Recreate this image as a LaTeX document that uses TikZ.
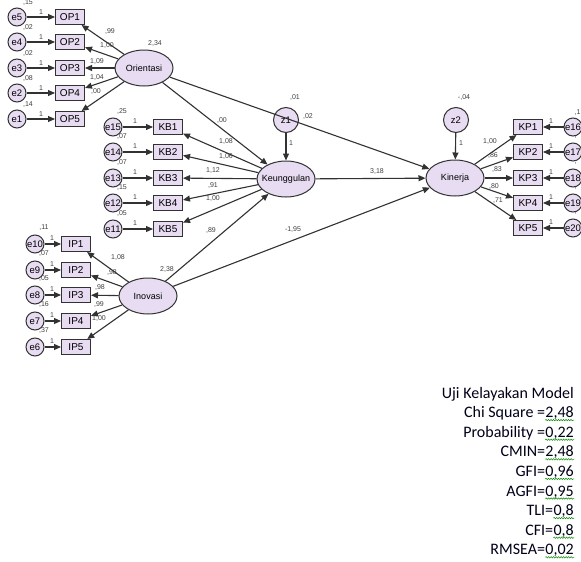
\documentclass[tikz,border=0pt]{standalone}
\usepackage{fontspec}
\setmainfont{Liberation Sans}
\newfontfamily\calibri{Carlito}
\usetikzlibrary{shapes.geometric,arrows.meta,decorations.pathmorphing}
\definecolor{lav}{RGB}{232,220,242}
\definecolor{edge}{RGB}{50,50,50}
\newcommand{\ctext}[1]{\hbox to 0pt{\hss#1\hss}}

\begin{document}
\begin{tikzpicture}[x=1pt,y=-1pt,
  lat/.style={ellipse,draw=edge,line width=1pt,fill=lav,minimum width=58pt,minimum height=36pt,inner sep=0pt,font=\fontsize{9}{10}\selectfont},
  obs/.style={draw=edge,line width=1pt,fill=lav,minimum width=29pt,minimum height=15pt,inner sep=0pt,font=\fontsize{10}{11}\selectfont},
  err/.style={circle,draw=edge,line width=1pt,fill=lav,minimum size=18pt,inner sep=0pt,font=\fontsize{9.5}{10}\selectfont},
  dist/.style={circle,draw=edge,line width=1pt,fill=lav,minimum size=25pt,inner sep=0pt,font=\fontsize{9.5}{10}\selectfont},
  coef/.style={inner sep=0pt,text=black!75,font=\fontsize{7}{8}\selectfont},
  link/.style={draw=edge,line width=1.1pt,-{Triangle[length=7pt,width=6pt]}},
  stat/.style={inner sep=0pt,text=black!90!blue,font=\calibri\fontsize{16}{18}\selectfont},
  wavy/.style={green!55!black,line width=0.5pt,decorate,decoration={snake,amplitude=0.7pt,segment length=2.5pt}}]
\fill[white] (0,0) rectangle (581,562);
\useasboundingbox (0,0) rectangle (581,562);

% latent variables
\node[lat] (ori) at (144,68) {\ctext{Orientasi}};
\node[lat] (keu) at (286,179) {\ctext{Keunggulan}};
\node[lat] (kin) at (455,178) {\ctext{Kinerja}};
\node[lat] (ino) at (148,296) {\ctext{Inovasi}};
\node[dist] (z1) at (286,120) {z1};
\node[dist] (z2) at (456,120) {z2};

% Orientasi indicators
\foreach \i/\yy/\en/\var/\load/\lx/\ly in {1/17/5/{,15}/{,99}/110/32, 2/42/4/{,02}/{1,00}/107/46, 3/68/3/{,02}/{1,09}/97/62, 4/93/2/{,08}/{1,04}/97/78, 5/119/1/{,14}/{,00}/96/92}{
  \node[obs] (OP\i) at (70,\yy) {OP\i};
  \node[err] (e\en) at (17,\yy) {\ctext{e\en}};
  \node[coef] (ve\en) at (28,\yy-14) {\var};
  \node[coef] (one\en) at (41,\yy-5) {1};
  \node[coef] (loOP\i) at (\lx,\ly) {\load};
  \draw[link] (e\en) -- (OP\i);
  \draw[link] (ori) -- (OP\i);
}

% Keunggulan indicators
\foreach \i/\yy/\en/\var/\load/\lx/\ly in {1/127/15/{,25}/{1,08}/226/142, 2/152/14/{,07}/{1,06}/226/157, 3/178/13/{,07}/{1,12}/213/171, 4/203/12/{,15}/{,91}/213/186, 5/229/11/{,05}/{1,00}/213/199}{
  \node[obs] (KB\i) at (168,\yy) {KB\i};
  \node[err] (e\en) at (113,\yy) {\ctext{e\en}};
  \node[coef] (ve\en) at (122,\yy-15) {\var};
  \node[coef] (one\en) at (135,\yy-6) {1};
  \node[coef] (loKB\i) at (\lx,\ly) {\load};
  \draw[link] (e\en) -- (KB\i);
  \draw[link] (keu) -- (KB\i);
}

% Inovasi indicators
\foreach \i/\yy/\en/\var/\load/\lx/\ly in {1/244/10/{,11}/{1,08}/118/258, 2/270/9/{,07}/{,98}/112/273, 3/295/8/{,05}/{,98}/100/288, 4/321/7/{,16}/{,99}/99/305, 5/347/6/{,37}/{1,00}/99/319}{
  \node[obs] (IP\i) at (76,\yy) {IP\i};
  \node[err] (e\en) at (35,\yy) {\ctext{e\en}};
  \node[coef] (ve\en) at (44,\yy-16) {\var};
  \node[coef] (one\en) at (52,\yy-6) {1};
  \node[coef] (loIP\i) at (\lx,\ly) {\load};
  \draw[link] (e\en) -- (IP\i);
  \draw[link] (ino) -- (IP\i);
}

% Kinerja indicators
\foreach \i/\yy/\en/\var/\load/\lx/\ly in {1/127/16/{,1}/{1,00}/490/142, 2/152/17/{,}/{,86}/493/156, 3/178/18/{,}/{,83}/497/170, 4/203/19/{,}/{,80}/494/187, 5/228/20/{,}/{,71}/498/201}{
  \node[obs] (KP\i) at (528,\yy) {KP\i};
  \node[err] (e\en) at (573,\yy) {\ctext{e\en}};
  \node[coef,anchor=west] (ve\en) at (574.5,\yy-14) {\var};
  \node[coef] (one\en) at (551,\yy-6) {1};
  \node[coef] (loKP\i) at (\lx,\ly) {\load};
  \draw[link] (e\en) -- (KP\i);
  \draw[link] (kin) -- (KP\i);
}

% structural paths
\draw[link] (ori) -- (keu);
\draw[link] (ori) -- (kin);
\draw[link] (keu) -- (kin);
\draw[link] (ino) -- (keu);
\draw[link] (ino) -- (kin);
\draw[link] (z1) -- (keu);
\draw[link] (z2) -- (kin);

\node[coef] (vori) at (155,44) {2,34};
\node[coef] (vino) at (167,270) {2,38};
\node[coef] (vz1) at (295,98) {,01};
\node[coef] (vz2) at (464,98) {-,04};
\node[coef] (onez1) at (291,143) {1};
\node[coef] (onez2) at (461,143) {1};
\node[coef] (cok) at (222,121) {,00};
\node[coef] (coi) at (308,117) {,02};
\node[coef] (cki) at (377,172) {3,18};
\node[coef] (cik) at (211,231) {,89};
\node[coef] (cii) at (293,230) {-1,95};

% fit indices
\node[stat,anchor=base east] (title) at (574,398) {Uji Kelayakan Model};
\foreach \k/\lab/\val in {1/{Chi Square =}/{2,48}, 2/{Probability =}/{0,22}, 3/{CMIN=}/{2,48}, 4/{GFI=}/{0,96}, 5/{AGFI=}/{0,95}, 6/{TLI=}/{0,8}, 7/{CFI=}/{0,8}, 8/{RMSEA=}/{0,02}}{
  \node[stat,anchor=base east] (val\k) at (574,398+19.6*\k) {\val};
  \node[stat,anchor=base east] (lab\k) at (val\k.base west) {\lab};
  \draw[wavy] ([yshift=-2.5pt]val\k.base west) -- ([yshift=-2.5pt]val\k.base east);
}
\end{tikzpicture}
\end{document}
